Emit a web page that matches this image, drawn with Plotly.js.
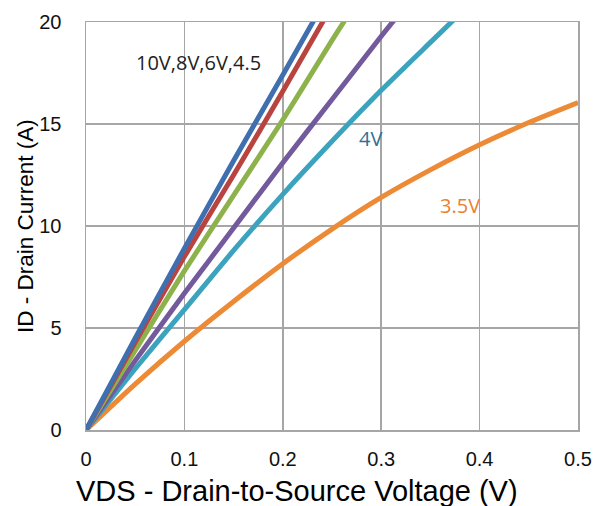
<!DOCTYPE html>
<html>
<head>
<meta charset="utf-8">
<script src="https://cdn.plot.ly/plotly-3.0.1.min.js"></script>
<style>html,body{margin:0;padding:0;background:#fff}#chart{width:595px;height:506px}</style>
</head>
<body>
<div id="chart"></div>
<script>
// Series names (gate voltages)
const seriesNames = ["10V", "8V", "6V", "4.5V", "4V", "3.5V"];
// VDS (V) and ID (A) for each curve
const x10 = [0, 0.05, 0.1, 0.15, 0.2, 0.24];
const y10 = [0, 4.5, 8.9, 13.2, 17.4, 20.8];
const x8 = [0, 0.05, 0.1, 0.15, 0.2, 0.25];
const y8 = [0, 4.3, 8.5, 12.5, 16.6, 20.8];
const x6 = [0, 0.05, 0.1, 0.15, 0.2, 0.25, 0.27];
const y6 = [0, 3.9, 7.8, 11.5, 15.2, 19.1, 20.6];
const x45 = [0, 0.05, 0.1, 0.15, 0.2, 0.25, 0.3, 0.32];
const y45 = [0, 3.4, 6.7, 9.9, 13.1, 16.2, 19.3, 20.5];
const x4 = [0, 0.05, 0.1, 0.15, 0.2, 0.25, 0.3, 0.35, 0.38];
const y4 = [0, 3.0, 5.9, 8.8, 11.55, 14.15, 16.65, 19.0, 20.4];
const x35 = [0, 0.05, 0.1, 0.15, 0.2, 0.25, 0.3, 0.35, 0.4, 0.45, 0.5];
const y35 = [0, 2.25, 4.35, 6.3, 8.15, 9.85, 11.4, 12.75, 13.98, 15.07, 16.05];
// Annotation labels
const labelTexts = ["10V,8V,6V,4.5", "4V", "3.5V"];
const labelX = [0.114, 0.289, 0.38];
const labelY = [18.0, 14.3, 11.0];
// Axis titles and ticks
const xTitle = "VDS - Drain-to-Source Voltage (V)";
const yTitle = "ID - Drain Current (A)";
const xTicks = [0, 0.1, 0.2, 0.3, 0.4, 0.5];
const xTickText = ["0", "0.1", "0.2", "0.3", "0.4", "0.5"];
const yTicks = [0, 5, 10, 15, 20];

const colors = ["#3F6FAF", "#B9443F", "#8DB24C", "#735A9C", "#3CA3BF", "#EC8A35"];
const xs = [x10, x8, x6, x45, x4, x35];
const ys = [y10, y8, y6, y45, y4, y35];

const traces = seriesNames.map((n, i) => ({
  x: xs[i], y: ys[i], name: n, type: "scatter", mode: "lines",
  line: {color: colors[i], width: 5, shape: "spline", smoothing: 0.6},
  hoverinfo: "skip"
})).reverse();

const labelColors = ["#222222", "#2F6F97", "#E8812F"];
const annotations = labelTexts.map((t, i) => ({
  x: labelX[i], y: labelY[i], xref: "x", yref: "y", text: t, showarrow: false,
  font: {family: "Open Sans, Liberation Sans, sans-serif", size: 20, color: labelColors[i]}
}));
annotations.push({
  x: 0.429, y: 0, xref: "paper", yref: "paper", yanchor: "middle", xanchor: "center",
  yshift: -61, text: xTitle, showarrow: false,
  font: {family: "Liberation Sans, Arial, sans-serif", size: 29, color: "#000"}
});
annotations.push({
  x: 0, y: 0.5, xref: "paper", yref: "paper", yanchor: "middle", xanchor: "center",
  xshift: -61, textangle: -90, text: yTitle, showarrow: false,
  font: {family: "Liberation Sans, Arial, sans-serif", size: 22.5, color: "#000"}
});

const gridColor = "#A6A6A6";
const layout = {
  width: 595, height: 506,
  margin: {l: 86, r: 17, t: 22, b: 76},
  paper_bgcolor: "#fff", plot_bgcolor: "#fff",
  showlegend: false,
  font: {family: "Liberation Sans, Arial, sans-serif", color: "#000"},
  xaxis: {
    range: [0, 0.5], tickvals: xTicks, ticktext: xTickText,
    showgrid: true, gridcolor: gridColor, gridwidth: 1.5,
    showline: true, linecolor: gridColor, linewidth: 1.5, mirror: true,
    zeroline: false, ticks: "", ticklabelstandoff: 10,
    tickfont: {size: 20, color: "#111"}
  },
  yaxis: {
    range: [0, 20], tickvals: yTicks,
    showgrid: true, gridcolor: gridColor, gridwidth: 1.5,
    showline: true, linecolor: gridColor, linewidth: 1.5, mirror: true,
    zeroline: false, ticks: "", ticklabelstandoff: 19,
    tickfont: {size: 20, color: "#111"}
  },
  annotations: annotations
};

Plotly.newPlot("chart", traces, layout, {displayModeBar: false, staticPlot: true});
</script>
</body>
</html>
